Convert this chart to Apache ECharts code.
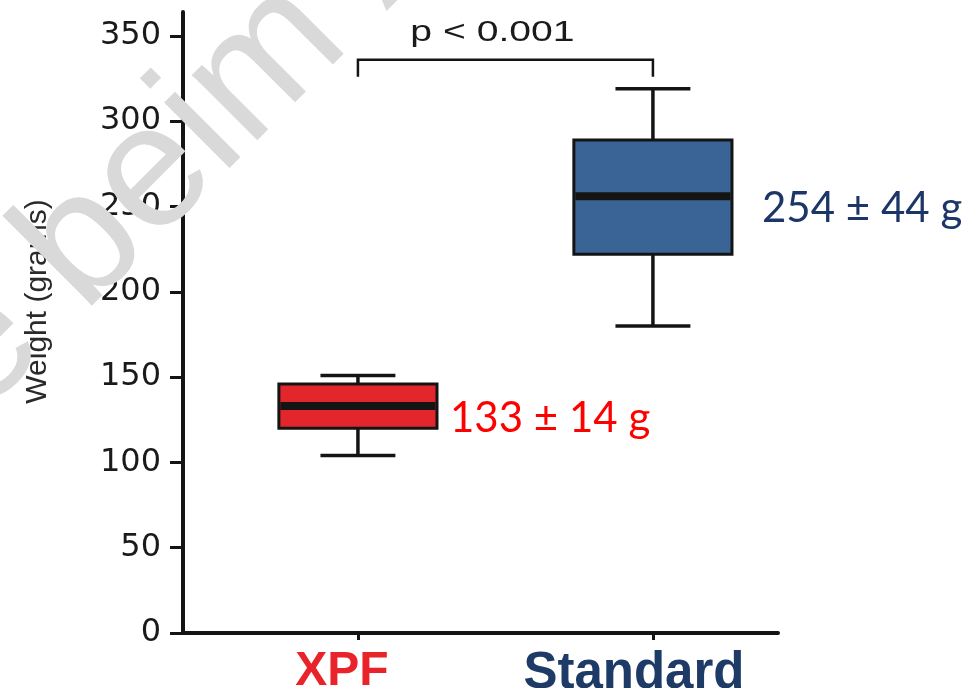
<!DOCTYPE html>
<html><head><meta charset="utf-8">
<script src="https://cdn.jsdelivr.net/npm/echarts@6/dist/echarts.min.js"></script>
<style>html,body{margin:0;padding:0;background:#fff}#chart{width:967px;height:688px}</style>
</head><body><div id="chart"></div>
<script>
// ---- data ----
const categories = ['XPF', 'Standard'];
const boxMin = [104, 180];
const boxQ1 = [120, 222];
const boxMedian = [133, 256];
const boxQ3 = [146, 289];
const boxMax = [151, 319];
const summaryLabels = ['133 ± 14 g', '254 ± 44 g'];
const yTicks = [0, 50, 100, 150, 200, 250, 300, 350];
const pValueText = 'p < 0.001';
const bracketLevels = [326, 336]; // leg bottom, bar level
const watermarkText = 'Rechte beim Autor';

// ---- styles ----
const boxFill = ['#e3262c', '#3a6496'];
const summaryColors = ['#ff0000', '#1c3668'];
const summaryGap = [13, 30];
const catColors = ['#e8242a', '#1e3a66'];
const INK = '#141414';
const BOX_W = 0.536, CAP_W = 0.254;

const chart = echarts.init(document.getElementById('chart'));

function renderBox(params, api) {
  const i = params.dataIndex;
  const x = api.value(0);
  const lo = api.coord([x, api.value(1)]);
  const q1 = api.coord([x, api.value(2)]);
  const md = api.coord([x, api.value(3)]);
  const q3 = api.coord([x, api.value(4)]);
  const hi = api.coord([x, api.value(5)]);
  const bw = api.size([BOX_W, 0])[0];
  const cw = api.size([CAP_W, 0])[0];
  const cx = lo[0];
  const line = (x1, y1, x2, y2, w) => ({type: 'line', shape: {x1, y1, x2, y2}, style: {stroke: INK, lineWidth: w}});
  return {type: 'group', children: [
    line(cx, hi[1], cx, q3[1], 3.5),
    line(cx, q1[1], cx, lo[1], 3.5),
    line(cx - cw / 2, hi[1], cx + cw / 2, hi[1], 3.5),
    line(cx - cw / 2, lo[1], cx + cw / 2, lo[1], 3.5),
    {type: 'rect', shape: {x: cx - bw / 2, y: q3[1], width: bw, height: q1[1] - q3[1]},
      style: {fill: boxFill[i], stroke: INK, lineWidth: 3}},
    line(cx - bw / 2 + 1.5, md[1], cx + bw / 2 - 1.5, md[1], 8),
    {type: 'text', x: cx + bw / 2 + summaryGap[i], y: md[1] + 12,
      style: {text: summaryLabels[i], fill: summaryColors[i], font: '42px Lato',
        align: 'left', verticalAlign: 'middle', textAlign: 'left', textVerticalAlign: 'middle'}}
  ]};
}

function renderBracket(params, api) {
  const a = api.coord([api.value(0), api.value(2)]);
  const b = api.coord([api.value(0), api.value(3)]);
  const c = api.coord([api.value(1), api.value(3)]);
  const d = api.coord([api.value(1), api.value(2)]);
  return {type: 'group', children: [
    {type: 'polyline', shape: {points: [a, b, c, d]}, style: {stroke: INK, lineWidth: 2.5, fill: null}},
    {type: 'text', x: (b[0] + c[0]) / 2 - 13, y: b[1] - 27, scaleX: 1.35,
      style: {text: pValueText, fill: '#1a1a1a', font: '29px "Liberation Sans"',
        align: 'center', verticalAlign: 'middle', textAlign: 'center', textVerticalAlign: 'middle'}}
  ]};
}

const option = {
  animation: false,
  backgroundColor: '#ffffff',
  grid: {left: 183, right: 189, top: 12, bottom: 55, containLabel: false, outerBoundsMode: 'none'},
  xAxis: {
    type: 'value', min: 0.407, max: 2.424,
    axisLine: {show: true, onZero: false, lineStyle: {color: INK, width: 4}},
    axisTick: {show: true, customValues: [1, 2], length: 7, lineStyle: {color: INK, width: 3}},
    axisLabel: {
      customValues: [1, 2], margin: 15,
      formatter: v => { const k = Math.round(v) - 1; return '{c' + k + '|' + categories[k] + '}'; },
      rich: {
        c0: {color: catColors[0], fontFamily: 'Liberation Sans', fontWeight: 'bold', fontSize: 48, padding: [0, 32, 0, 0]},
        c1: {color: catColors[1], fontFamily: 'Liberation Sans', fontWeight: 'bold', fontSize: 51, padding: [0, 38, 0, 0]}
      }
    },
    splitLine: {show: false}
  },
  yAxis: {
    type: 'value', min: 0, max: 364,
    axisLine: {show: true, lineStyle: {color: INK, width: 4}},
    axisTick: {show: true, customValues: yTicks, length: 13, lineStyle: {color: INK, width: 3}},
    axisLabel: {customValues: yTicks, margin: 22, color: '#1a1a1a', fontFamily: 'DejaVu Sans', fontSize: 32},
    splitLine: {show: false},
    name: 'Weight (grams)', nameLocation: 'middle', nameGap: 130,
    nameTextStyle: {fontFamily: 'Liberation Sans', fontSize: 30, color: '#2a2a2a', padding: [0, 0, 0, 42]}
  },
  series: [
    {type: 'custom', coordinateSystem: 'cartesian2d', z: 5,
      data: categories.map((c, i) => [i + 1, boxMin[i], boxQ1[i], boxMedian[i], boxQ3[i], boxMax[i]]),
      encode: {x: 0, y: [1, 2, 3, 4, 5]}, renderItem: renderBox},
    {type: 'custom', coordinateSystem: 'cartesian2d', z: 5,
      data: [[1, 2, bracketLevels[0], bracketLevels[1]]],
      encode: {x: [0, 1], y: [2, 3]}, renderItem: renderBracket}
  ],
  graphic: [{
    type: 'text', x: -315, y: 768, rotation: Math.PI / 4, z: 100, silent: true,
    style: {text: watermarkText, font: '175px "Liberation Sans"', fill: '#d9d9d9',
      align: 'left', verticalAlign: 'bottom', textAlign: 'left', textVerticalAlign: 'bottom'}
  }]
};
chart.setOption(option);
</script></body></html>
